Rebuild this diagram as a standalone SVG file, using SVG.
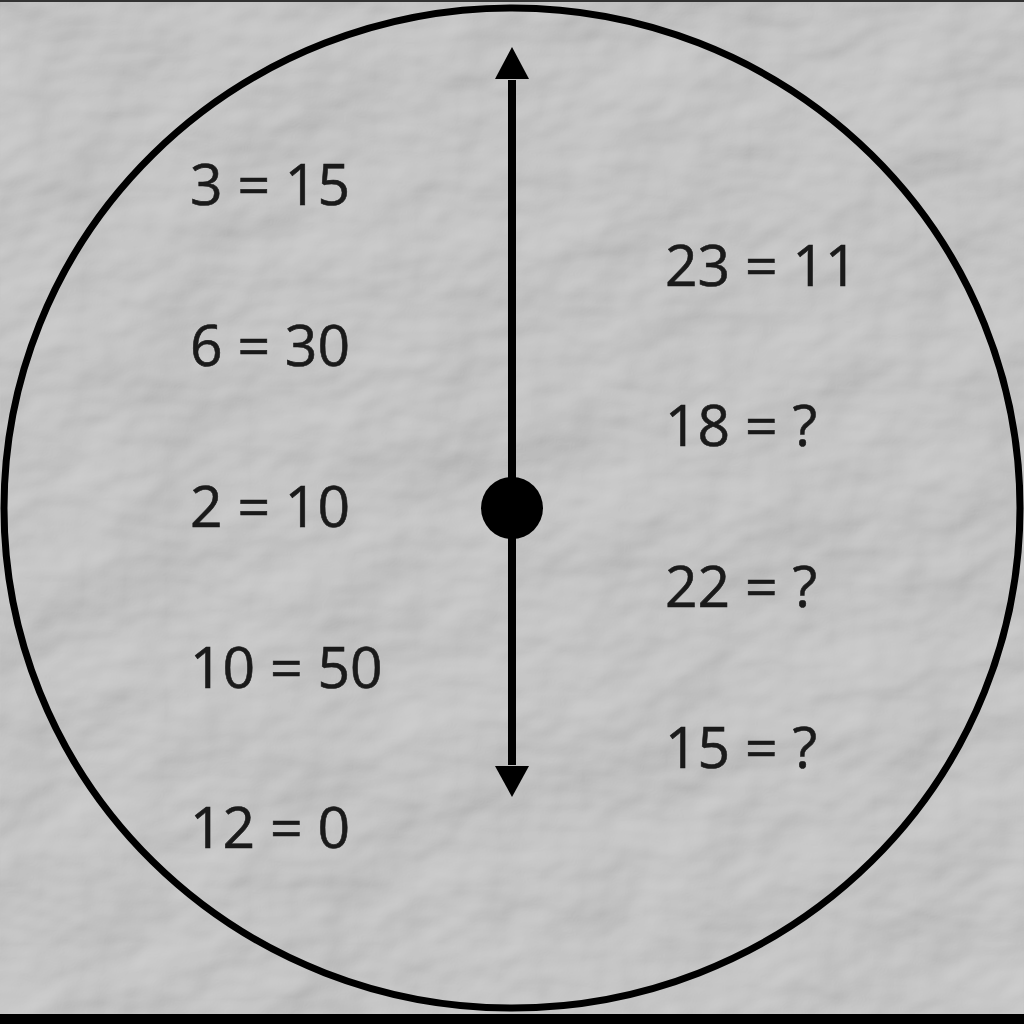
<svg xmlns="http://www.w3.org/2000/svg" width="1024" height="1024" viewBox="0 0 1024 1024">
<defs>
<style>
.lbl{font-family:"Open Sans","Noto Sans","Liberation Sans",sans-serif;font-size:57px;fill:#1a1a1a;stroke:#1a1a1a;stroke-width:0.6}
.conn{stroke:#000;stroke-width:8;fill:none}
</style>
<filter id="paper" x="0" y="0" width="100%" height="100%">
<feTurbulence type="fractalNoise" baseFrequency="0.006 0.009" numOctaves="4" seed="7" result="n"/>
<feDiffuseLighting in="n" surfaceScale="10" lighting-color="#ffffff" diffuseConstant="1" result="l">
<feDistantLight azimuth="225" elevation="50"/>
</feDiffuseLighting>
<feColorMatrix in="l" type="matrix" values="0.33 0.33 0.33 0 0  0.33 0.33 0.33 0 0  0.33 0.33 0.33 0 0  0 0 0 0 0.45"/>
</filter>
</defs>
<rect x="0" y="0" width="1024" height="1024" fill="#ababab"/>
<rect x="0" y="0" width="1024" height="1024" filter="url(#paper)"/>
<rect x="0" y="0" width="1024" height="2" fill="#333"/>
<rect x="0" y="1014" width="1024" height="10" fill="#000"/>
<g id="clock">
<ellipse cx="512" cy="508" rx="508" ry="500" fill="none" stroke="#000" stroke-width="7"/>
</g>
<g id="connectors">
<line class="conn" x1="512" y1="80" x2="512" y2="765"/>
<path d="M512,47 L529,79 L495,79 Z" fill="#000"/>
<path d="M512,797 L529,766 L495,766 Z" fill="#000"/>
</g>
<g id="center">
<circle cx="512" cy="508" r="31" fill="#000"/>
</g>
<g id="left">
<text class="lbl" x="190" y="205">3 = 15</text>
<text class="lbl" x="190" y="366">6 = 30</text>
<text class="lbl" x="190" y="527">2 = 10</text>
<text class="lbl" x="190" y="688">10 = 50</text>
<text class="lbl" x="190" y="848">12 = 0</text>
</g>
<g id="right">
<text class="lbl" x="665" y="286">23 = 11</text>
<text class="lbl" x="665" y="446">18 = ?</text>
<text class="lbl" x="665" y="607">22 = ?</text>
<text class="lbl" x="665" y="768">15 = ?</text>
</g>
</svg>
